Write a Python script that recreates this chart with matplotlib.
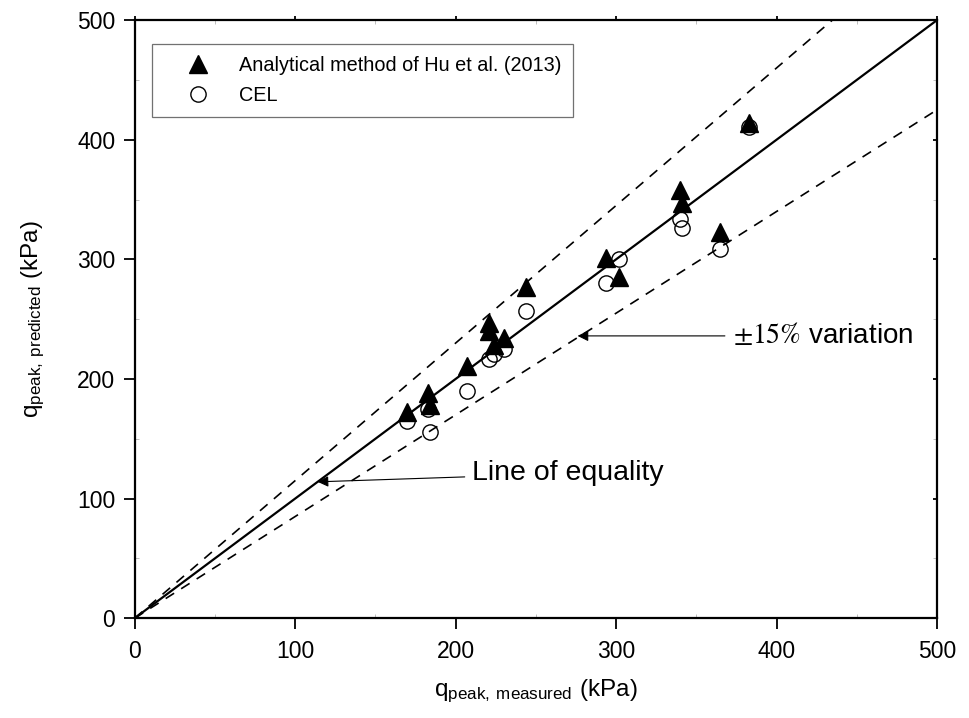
import numpy as np
import matplotlib
matplotlib.use("Agg")
import matplotlib.pyplot as plt

plt.rcParams['font.family'] = ['Liberation Sans', 'DejaVu Sans']
plt.rcParams['mathtext.fontset'] = 'stix'

# measured vs predicted peak stress (kPa)
hu_measured = [170, 183, 184, 207, 221, 221, 224, 230, 244, 294, 302, 340, 341, 365, 383]
hu_predicted = [172, 188, 178, 211, 247, 240, 228, 234, 277, 301, 285, 358, 347, 323, 414]

cel_measured = [170, 183, 184, 207, 221, 224, 230, 244, 294, 302, 340, 341, 365, 383]
cel_predicted = [165, 175, 156, 190, 217, 221, 225, 257, 280, 300, 334, 326, 309, 411]

line_x = [0, 500]

fig = plt.figure(figsize=(9.69, 7.18), dpi=100)
ax = fig.add_axes([0.139, 0.139, 0.828, 0.833])

# equality and +/-15% lines
ax.plot(line_x, line_x, 'k-', lw=1.6, zorder=2)
ax.plot(line_x, [v * 1.15 for v in line_x], 'k--', lw=1.2, dashes=(6, 5), zorder=2)
ax.plot(line_x, [v * 0.85 for v in line_x], 'k--', lw=1.2, dashes=(6, 5), zorder=2)

ax.plot(hu_measured, hu_predicted, '^', color='k', ms=13, ls='none',
        label='Analytical method of Hu et al. (2013)', zorder=3)
ax.plot(cel_measured, cel_predicted, 'o', mfc='none', mec='k', mew=1.0, ms=11,
        ls='none', label='CEL', zorder=4)

ax.set_xlim(0, 500)
ax.set_ylim(0, 500)
ax.set_xticks(np.arange(0, 501, 100))
ax.set_yticks(np.arange(0, 501, 100))
ax.set_xticks(np.arange(50, 500, 100), minor=True)
ax.set_yticks(np.arange(50, 500, 100), minor=True)
ax.tick_params(axis='x', which='major', labelsize=16.5, direction='out',
               length=8, width=1.3, pad=8)
ax.tick_params(axis='y', which='major', labelsize=16.5, direction='out',
               length=8, width=1.3, pad=6)
ax.tick_params(axis='both', which='minor', direction='in', length=3,
               width=0.6, color='0.7', top=True, right=True)
ax.tick_params(axis='both', which='major', top=True, right=True)
for s in ax.spines.values():
    s.set_linewidth(1.6)
# short faint inward ticks on top/right
for t in ax.xaxis.get_major_ticks():
    t.tick2line.set_markersize(3)
    t.tick2line.set_color('0.6')
    t.tick2line.set_marker(2)
for t in ax.yaxis.get_major_ticks():
    t.tick2line.set_markersize(3)
    t.tick2line.set_color('0.6')
    t.tick2line.set_marker(0)

ax.set_xlabel(r'q$_{\mathregular{peak,\ measured}}$ (kPa)', fontsize=17.5, labelpad=10)
ax.set_ylabel(r'q$_{\mathregular{peak,\ predicted}}$ (kPa)', fontsize=17.5, labelpad=22)

# annotations
ax.annotate('Line of equality', xy=(114, 114), xytext=(210, 121),
            fontsize=20.5, va='center', ha='left',
            arrowprops=dict(arrowstyle='-|>', color='k', lw=0.8,
                            mutation_scale=16, shrinkA=3, shrinkB=0))
ax.annotate(r'$\pm15\%$ variation', xy=(276, 236), xytext=(373, 236),
            fontsize=20, va='center', ha='left',
            arrowprops=dict(arrowstyle='-|>', color='k', lw=0.8,
                            mutation_scale=16, shrinkA=4, shrinkB=0))

leg = ax.legend(loc='upper left', bbox_to_anchor=(0.022, 0.96), fontsize=14.3,
                frameon=True, fancybox=False, edgecolor='0.3', borderaxespad=0,
                handlelength=3.4, handletextpad=0.35, borderpad=0.6,
                labelspacing=0.55)
leg.get_frame().set_linewidth(0.9)

fig.savefig('out.png', dpi=100)
